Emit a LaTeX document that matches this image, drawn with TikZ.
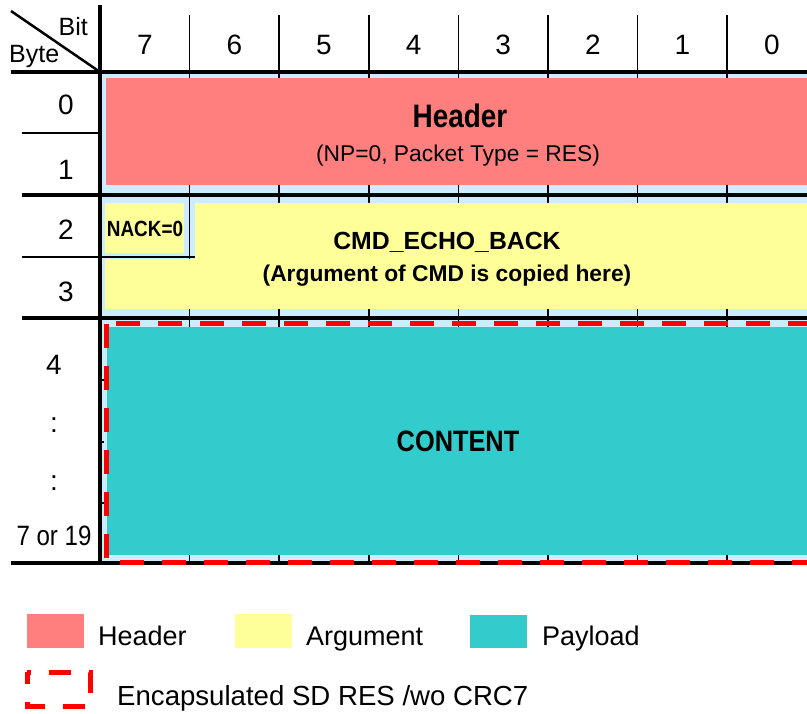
\documentclass[tikz,border=0pt]{standalone}
\usepackage{fontspec}
\setmainfont{Liberation Sans}
\newfontfamily\narrowfont[FakeStretch=0.86]{Liberation Sans}
\definecolor{hdrred}{HTML}{FF7F7F}
\definecolor{argyellow}{HTML}{FFFF99}
\definecolor{payteal}{HTML}{33CCCC}
\definecolor{gapblue}{HTML}{CCECFF}

\begin{document}
\begin{tikzpicture}[x=1pt, y=-1pt,
  thickline/.style={line width=4pt},
  thinline/.style={line width=1.5pt},
  numlbl/.style={font=\fontsize{28}{32}\selectfont, inner sep=0pt, anchor=base},
  legtext/.style={font=\fontsize{27}{31}\selectfont, inner sep=0pt, anchor=base west},
  crcline/.style={red, line width=5pt, dash pattern=on 24pt off 18pt}]
  \useasboundingbox (0,0) rectangle (807,714);
  \clip (0,0) rectangle (807,714);

  % cells
  \fill[gapblue] (101,72) rectangle (807,563);
  \foreach \i in {1,...,7}
    \draw[thinline] ({100+89.6*\i},15) -- ({100+89.6*\i},563);

  \fill[hdrred] (106,78) rectangle (807,185);
  \fill[argyellow] (105,203) rectangle (184,253);
  \fill[argyellow] (195,203) -- (807,203) -- (807,309) -- (105,309) -- (105,259) -- (195,259) -- cycle;
  \fill[payteal] (107,327) rectangle (807,555);

  % grid
  \draw[thinline] (22,133) -- (100,133);
  \draw[thinline] (22,257) -- (195,257);
  \foreach \y in {380,442,503}
    \draw[thinline] (100,\y) -- (104,\y);
  \draw[thickline] (100,5) -- (100,565);
  \draw[thickline] (11,72) -- (807,72);
  \draw[thickline] (22,195) -- (807,195);
  \draw[thickline] (22,318) -- (807,318);
  \draw[thickline] (11,563) -- (807,563);
  \draw[line width=2.5pt] (11,11) -- (100,72);

  \draw[crcline] (106,324) -- (106,562) -- (830,562) -- (830,324) -- cycle;

  % labels
  \node[numlbl, font=\fontsize{25}{29}\selectfont, anchor=base east] (bitcap) at (88,36) {Bit};
  \node[numlbl, font=\fontsize{25}{29}\selectfont, anchor=base west] (bytecap) at (9,63) {Byte};
  \foreach \b [count=\i from 0] in {7,6,...,0}
    \node[numlbl] (bit\b) at ({144.8+89.6*\i},55) {\b};

  \node[numlbl] (byte0) at (66,115) {0};
  \node[numlbl] (byte1) at (66,180) {1};
  \node[numlbl] (byte2) at (66,240) {2};
  \node[numlbl] (byte3) at (66,302) {3};
  \node[numlbl] (byte4) at (54,375) {4};
  \node[numlbl] (dotsa) at (54,432) {:};
  \node[numlbl] (dotsb) at (54,490) {:};
  \node[numlbl, font=\narrowfont\fontsize{28}{32}\selectfont] (bytelast) at (54,545) {7 or 19};

  \node[numlbl, font=\narrowfont\bfseries\fontsize{32.5}{36}\selectfont] (hdrtitle) at (460,128) {Header};
  \node[numlbl, font=\fontsize{22.8}{26}\selectfont] (hdrsub) at (458,162) {(NP=0, Packet Type = RES)};
  \node[numlbl, font=\narrowfont\bfseries\fontsize{22}{26}\selectfont] (nack) at (145,237) {NACK=0};
  \node[numlbl, font=\bfseries\fontsize{24.8}{28}\selectfont] (echotitle) at (447,250) {CMD\_ECHO\_BACK};
  \node[numlbl, font=\bfseries\fontsize{22.8}{26}\selectfont] (echosub) at (447,282) {(Argument of CMD is copied here)};
  \node[numlbl, font=\narrowfont\bfseries\fontsize{29.5}{33}\selectfont] (content) at (458,452) {CONTENT};

  % legend
  \fill[hdrred] (27,614) rectangle (84,648);
  \node[legtext] (leghdr) at (98,645) {Header};
  \fill[argyellow] (235,614) rectangle (292,648);
  \node[legtext] (legarg) at (306,645) {Argument};
  \fill[payteal] (470,615) rectangle (527,648);
  \node[legtext] (legpay) at (542,645) {Payload};
  \draw[crcline, dash pattern=on 22pt off 18pt, dash phase=10pt] (27,672) rectangle (90,706);
  \node[legtext, font=\fontsize{27.6}{31}\selectfont] (legcrc) at (117,705) {Encapsulated SD RES /wo CRC7};
\end{tikzpicture}
\end{document}
